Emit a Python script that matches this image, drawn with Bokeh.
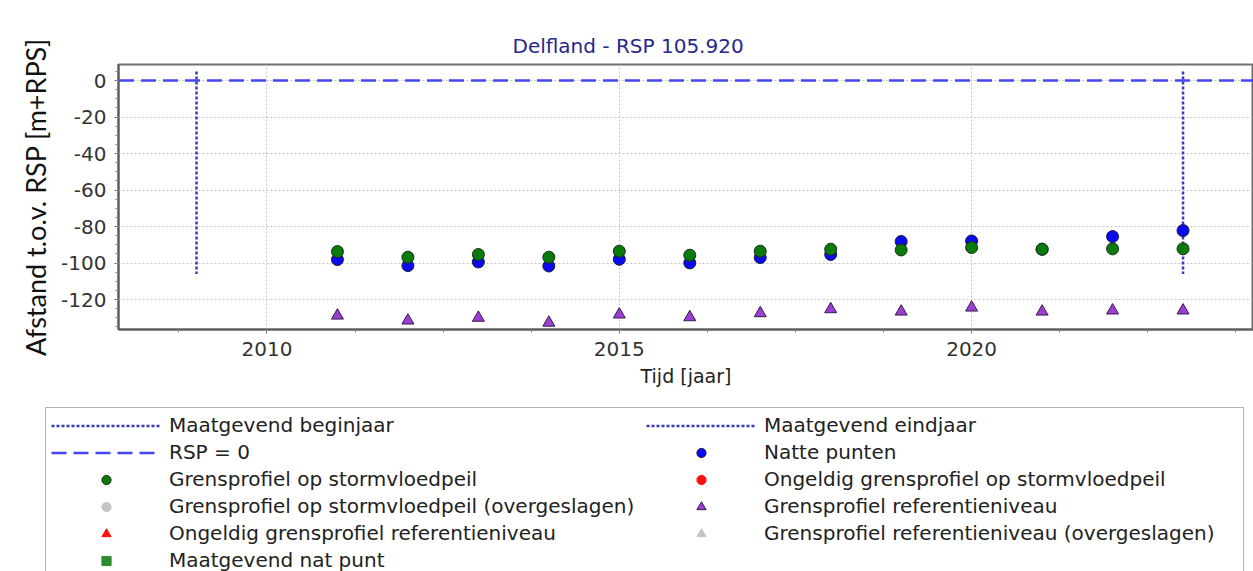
from bokeh.plotting import figure
from bokeh.models import Range1d, Legend, LegendItem, FixedTicker, CustomJSTickFormatter
from bokeh.embed import file_html
from bokeh.resources import INLINE

# ---- data ----
years = [2011, 2012, 2013, 2014, 2015, 2016, 2017, 2018, 2019, 2020, 2021, 2022, 2023]
grens_storm = [-93.7, -96.8, -95.3, -96.8, -93.5, -95.7, -93.5, -92.4, -92.8, -91.5, -92.4, -92.2, -92.2]
natte_punten = [-98.1, -101.4, -99.4, -101.6, -97.9, -99.9, -97.0, -95.3, -88.2, -87.9, -92.4, -85.5, -82.2]
grens_ref = [-128.8, -131.5, -130.0, -132.7, -128.2, -129.7, -127.5, -125.3, -126.6, -124.4, -126.6, -126.0, -126.0]

begin_jaar = [2009]
eind_jaar = [2023]
jaar_lijn_top = [5]
jaar_lijn_bodem = [-106]
rsp_x = [2007.9, 2024.5]
rsp_y = [0, 0]

x_ticks = [2010, 2015, 2020]
y_ticks = [-120, -100, -80, -60, -40, -20, 0]

FONT = "DejaVu Sans"

p = figure(width=1253, height=400, output_backend="svg", toolbar_location=None,
           x_range=Range1d(2007.893, 2024.0), y_range=Range1d(-136.4, 8.8),
           min_border_left=118, min_border_right=0, min_border_top=64,
           min_border_bottom=71)

p.title.text = "Delfland - RSP 105.920"
p.title.align = "left"
p.title.offset = 394
p.title.standoff = 14
p.title.text_font = FONT
p.title.text_font_size = "20px"
p.title.text_font_style = "normal"
p.title.text_color = "#27278c"

p.outline_line_color = "#6e6e6e"
p.outline_line_width = 2

# grids
p.xgrid.ticker = FixedTicker(ticks=x_ticks)
p.ygrid.ticker = FixedTicker(ticks=y_ticks)
for g in (p.xgrid, p.ygrid):
    g.grid_line_color = "#c4c4c4"
    g.grid_line_dash = "2 2"
    g.grid_line_width = 1

# axes
p.xaxis.ticker = FixedTicker(ticks=x_ticks, minor_ticks=[2008.75 + 1.25 * i for i in range(13)])
p.yaxis.ticker = FixedTicker(ticks=y_ticks, minor_ticks=[-135 + 5 * i for i in range(29)])
fmt = "return tick.toFixed(0);"
p.xaxis.formatter = CustomJSTickFormatter(code=fmt)
p.yaxis.formatter = CustomJSTickFormatter(code=fmt)
for ax in (p.xaxis, p.yaxis):
    ax.axis_line_color = "#5a5a5a"
    ax.axis_line_width = 2
    ax.major_tick_line_color = "#5a5a5a"
    ax.minor_tick_line_color = "#8a8a8a"
    ax.major_tick_in = 0
    ax.major_tick_out = 4
    ax.minor_tick_in = 0
    ax.minor_tick_out = 3
    ax.major_label_text_font = FONT
    ax.major_label_text_font_size = "20px"
    ax.major_label_text_color = "#333333"

p.xaxis.axis_label = "Tijd [jaar]"
p.xaxis.axis_label_text_font = FONT
p.xaxis.axis_label_text_font_size = "19px"
p.xaxis.axis_label_text_font_style = "normal"
p.xaxis.axis_label_text_color = "#222222"
p.xaxis.axis_label_standoff = 6
p.xaxis.major_label_standoff = 8

p.yaxis.axis_label = "Afstand t.o.v. RSP [m+RPS]"
p.yaxis.axis_label_text_font = "Lato"
p.yaxis.axis_label_text_font_size = "27px"
p.yaxis.axis_label_text_font_style = "normal"
p.yaxis.axis_label_text_color = "#111111"
p.yaxis.axis_label_standoff = 6
p.yaxis.major_label_standoff = 8

# reference lines
LINE_BEGIN = dict(line_color="#3a3ab4", line_width=2.5, line_dash="3 2")
LINE_RSP = dict(line_color="#4646f5", line_width=2.5, line_dash="15 7")
p.segment(x0=begin_jaar, y0=jaar_lijn_top, x1=begin_jaar, y1=jaar_lijn_bodem, **LINE_BEGIN)
p.segment(x0=eind_jaar, y0=jaar_lijn_top, x1=eind_jaar, y1=jaar_lijn_bodem, **LINE_BEGIN)
p.line(x=rsp_x, y=rsp_y, **LINE_RSP)

# data series
NAT = dict(marker="circle", fill_color="#0a0af0", line_color="#1a1a40", line_width=1)
GRENS = dict(marker="circle", fill_color="#0a7a0a", line_color="#1a301a", line_width=1)
REF = dict(marker="triangle", fill_color="#9b3fd0", line_color="#3a1a50", line_width=1)
p.scatter(x=years, y=natte_punten, size=12, **NAT)
p.scatter(x=years, y=grens_storm, size=12, **GRENS)
p.scatter(x=years, y=grens_ref, size=12, **REF)

# ---- legend panel (separate root below the chart) ----
lg = figure(width=1253, height=171, output_backend="svg", toolbar_location=None,
            x_range=Range1d(0, 1), y_range=Range1d(0, 1),
            x_axis_type=None, y_axis_type=None,
            min_border=0, min_border_left=0, min_border_right=0,
            min_border_top=0, min_border_bottom=0)
lg.outline_line_color = None
lg.xgrid.visible = False
lg.ygrid.visible = False

# legend sample glyphs: placed outside the visible range so only the legend shows them
OUT_X = [-5, -4]
OUT_Y = [-5, -5]

def L(**kw):
    return lg.line(x=OUT_X, y=OUT_Y, **kw)

def S(**kw):
    return lg.scatter(x=OUT_X[:1], y=OUT_Y[:1], size=10, **kw)

items = [
    LegendItem(label="Maatgevend beginjaar", renderers=[L(**LINE_BEGIN)]),
    LegendItem(label="RSP = 0", renderers=[L(**LINE_RSP)]),
    LegendItem(label="Grensprofiel op stormvloedpeil", renderers=[S(**GRENS)]),
    LegendItem(label="Grensprofiel op stormvloedpeil (overgeslagen)",
               renderers=[S(marker="circle", fill_color="#c4c4c4", line_color="#c4c4c4")]),
    LegendItem(label="Ongeldig grensprofiel referentieniveau",
               renderers=[S(marker="triangle", fill_color="#ff1010", line_color="#ff1010")]),
    LegendItem(label="Maatgevend nat punt",
               renderers=[S(marker="square", fill_color="#2e8b2e", line_color="#2e8b2e")]),
    LegendItem(label="Maatgevend eindjaar", renderers=[L(**LINE_BEGIN)]),
    LegendItem(label="Natte punten", renderers=[S(**NAT)]),
    LegendItem(label="Ongeldig grensprofiel op stormvloedpeil",
               renderers=[S(marker="circle", fill_color="#ff1010", line_color="#ff1010")]),
    LegendItem(label="Grensprofiel referentieniveau", renderers=[S(**REF)]),
    LegendItem(label="Grensprofiel referentieniveau (overgeslagen)",
               renderers=[S(marker="triangle", fill_color="#c4c4c4", line_color="#c4c4c4")]),
]

legend = Legend(items=items, location=(45, -7), orientation="vertical", ncols=2,
                margin=0, padding=5, spacing=3,
                glyph_width=110, glyph_height=23, label_standoff=8,
                label_width=474, label_height=23,
                label_text_font=FONT, label_text_font_size="20px", label_text_color="#222222",
                border_line_color="#6a6a6a", border_line_width=1.5,
                background_fill_color="white", background_fill_alpha=1.0)
lg.add_layout(legend, "center")

open("out.html", "w").write(file_html([p, lg], INLINE))
